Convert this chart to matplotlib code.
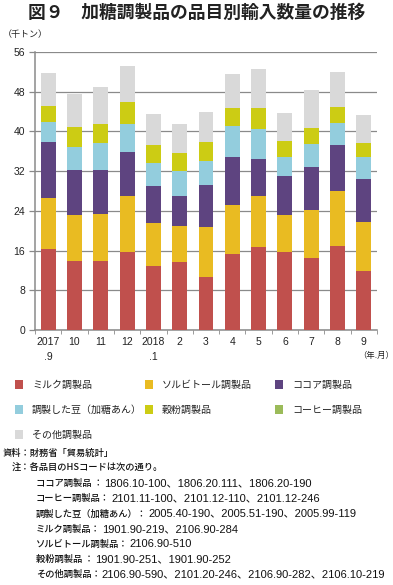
import matplotlib
matplotlib.use("Agg")
import matplotlib.pyplot as plt
from matplotlib.patches import Rectangle
import numpy as np

plt.rcParams['font.family'] = ['Noto Sans CJK JP', 'DejaVu Sans']

months = ["2017\n.9", "10", "11", "12", "2018\n.1", "2", "3", "4", "5", "6", "7", "8", "9"]
series_names = ["ミルク調製品", "ソルビトール調製品", "ココア調製品",
                "調製した豆（加糖あん）", "穀粉調製品", "コーヒー調製品", "その他調製品"]
milk     = [16.3, 13.9, 13.8, 15.7, 12.9, 13.6, 10.7, 15.3, 16.7, 15.7, 14.6, 17.0, 11.8]
sorbitol = [10.2, 9.2, 9.5, 11.2, 8.6, 7.3, 10.1, 9.9, 10.3, 7.5, 9.5, 11.1, 9.9]
cocoa    = [11.4, 9.1, 8.9, 9.0, 7.6, 6.0, 8.4, 9.6, 7.5, 7.9, 8.8, 9.1, 8.8]
beans    = [3.9, 4.7, 5.4, 5.6, 4.5, 5.1, 4.9, 6.3, 6.0, 3.8, 4.5, 4.5, 4.3]
flour    = [3.3, 3.9, 3.9, 4.4, 3.7, 3.7, 3.8, 3.6, 4.2, 3.2, 3.3, 3.2, 2.9]
coffee   = [0.05, 0.05, 0.05, 0.05, 0.05, 0.05, 0.05, 0.05, 0.05, 0.05, 0.05, 0.05, 0.05]
other    = [6.6, 6.7, 7.3, 7.2, 6.2, 5.8, 5.9, 6.8, 7.8, 5.6, 7.6, 7.0, 5.5]
colors = ["#C0504D", "#E9BB22", "#5E4480", "#93CDDD", "#CCCC14", "#9BBB59", "#D9D9D9"]
yticks = [0, 8, 16, 24, 32, 40, 48, 56]

series = [milk, sorbitol, cocoa, beans, flour, coffee, other]

fig = plt.figure(figsize=(3.93, 5.85), dpi=100)
ax = fig.add_axes([35/393, 1-330/585, 342/393, 278/585])

x = np.arange(len(months))
bottom = np.zeros(len(months))
for vals, col in zip(series, colors):
    ax.bar(x, vals, bottom=bottom, width=0.57, color=col, zorder=3, linewidth=0)
    bottom += np.array(vals)

ax.set_xlim(-0.5, len(months) - 0.5)
ax.set_ylim(0, 56)
ax.set_yticks(yticks)
ax.set_yticklabels([str(v) for v in yticks], fontsize=7.5, color="#222222",
                   family=['Liberation Sans', 'Noto Sans CJK JP'])
ax.yaxis.grid(True, color="#8a8a8a", linewidth=0.9, zorder=0)
ax.set_xticks(x)
ax.set_xticklabels(months, fontsize=7.5, color="#222222", linespacing=1.6,
                   family=['Liberation Sans', 'Noto Sans CJK JP'])
ax.set_xticks(np.arange(-0.5, len(months), 1), minor=True)
ax.tick_params(axis='x', which='major', length=0, pad=5)
ax.tick_params(axis='x', which='minor', length=3, color="#8a8a8a", direction='out')
ax.tick_params(axis='y', length=4, color="#8a8a8a", pad=3, width=0.9)
for s in ["top", "right"]:
    ax.spines[s].set_visible(False)
for s in ["left", "bottom"]:
    ax.spines[s].set_color("#8a8a8a")
    ax.spines[s].set_linewidth(1.1)

fig.text(197/393, 1-13/585, "図９　加糖調製品の品目別輸入数量の推移", ha='center', va='center',
         fontsize=12.8, weight='bold', color="#222222")
fig.text(3/393, 1-34/585, "（千トン）", ha='left', va='center', fontsize=6.5, color="#222222")
fig.text(376/393, 1-355/585, "（年.月）", ha='center', va='center', fontsize=6, color="#222222")

# legend
leg_pos = [(15, 385), (145, 385), (275, 385), (15, 410), (145, 410), (275, 410), (15, 435)]
for (px, py), name, col in zip(leg_pos, series_names, colors):
    fig.patches.append(Rectangle((px/393, 1-(py+4)/585), 8/393, 9/585, transform=fig.transFigure,
                                 facecolor=col, edgecolor='none'))
    fig.text((px+17)/393, 1-py/585, name, ha='left', va='center', fontsize=7.2, color="#222222")

# notes
head_lines = [(3, "資料：財務省「貿易統計」"),
              (12, "注：各品目のHSコードは次の通り。")]
code_lines = [
    ("ココア調製品 ：", "1806.10-100、1806.20.111、1806.20-190"),
    ("コーヒー調製品：", "2101.11-100、2101.12-110、2101.12-246"),
    ("調製した豆（加糖あん）：", "2005.40-190、2005.51-190、2005.99-119"),
    ("ミルク調製品：", "1901.90-219、2106.90-284"),
    ("ソルビトール調製品：", "2106.90-510"),
    ("穀粉調製品 ：", "1901.90-251、1901.90-252"),
    ("その他調製品：", "2106.90-590、2101.20-246、2106.90-282、2106.10-219"),
]
renderer = fig.canvas.get_renderer()
row = 0
for px, t in head_lines:
    fig.text(px/393, 1-(453 + row*15.2)/585, t, ha='left', va='center', fontsize=6.7,
             color="#111111", weight='medium')
    row += 1
for lab, codes in code_lines:
    yy = 1-(453 + row*15.2)/585
    tl = fig.text(36/393, yy, lab, ha='left', va='center', fontsize=6.7,
                  color="#111111", weight='medium')
    ext = tl.get_window_extent(renderer)
    fig.text((ext.x1 + 1)/393, yy, codes, ha='left', va='center', fontsize=8.0,
             color="#111111", family=['Liberation Sans', 'Noto Sans CJK JP'])
    row += 1

fig.savefig("out.png", dpi=100)
